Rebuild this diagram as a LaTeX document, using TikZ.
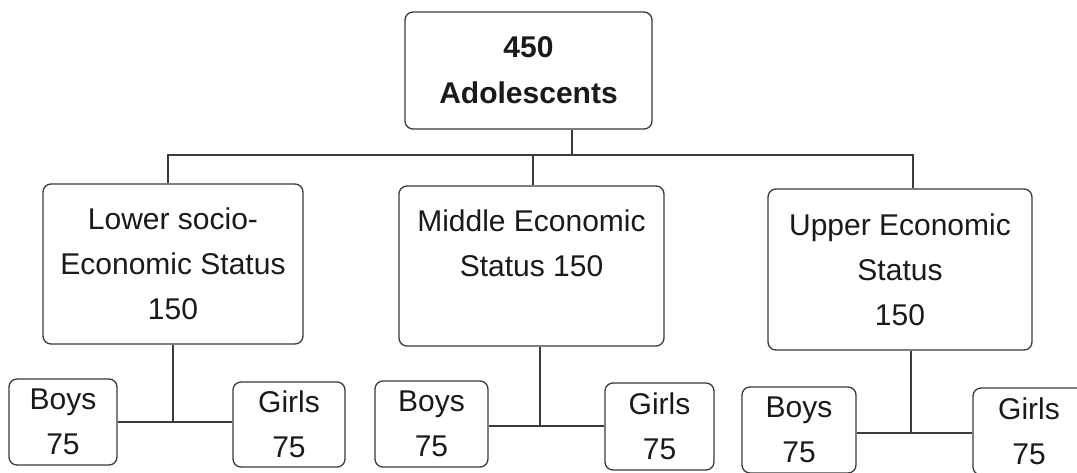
\documentclass[tikz,border=0pt]{standalone}
\usepackage{fontspec}
\setmainfont{Liberation Sans}
\definecolor{ink}{HTML}{1A1A1A}
\definecolor{edge}{HTML}{3A3A3A}
\begin{document}
\begin{tikzpicture}[x=1pt,y=-1pt,
  box/.style={draw=edge,line width=1.3pt,rounded corners=8pt,inner sep=0pt,
    align=center,text=ink,font=\fontsize{30}{45}\selectfont},
  link/.style={draw=edge,line width=1.3pt}]
\clip (0,0) rectangle (1077,472);
\fill[white] (0,0) rectangle (1077,472);
% top
\node[box,minimum width=247pt,minimum height=117pt,font=\fontsize{30}{46}\selectfont\bfseries] (top) at (528.5,70.5) {450\\Adolescents};
% level 2
\node[box,minimum width=260pt,minimum height=160pt] (L) at (173,264) {Lower socio-\\Economic Status\\150};
\node[box,minimum width=265pt,minimum height=160pt] (M) at (531.5,266) {Middle Economic\\Status 150\\\phantom{1}};
\node[box,minimum width=264pt,minimum height=161pt] (U) at (900,269.5) {Upper Economic\\Status\\150};
% level 3
\node[box,minimum width=108pt,minimum height=86pt] (LB) at (63,422) {Boys\\75};
\node[box,minimum width=112pt,minimum height=85pt] (LG) at (289,424.5) {Girls\\75};
\node[box,minimum width=113pt,minimum height=86pt] (MB) at (431.5,424) {Boys\\75};
\node[box,minimum width=109pt,minimum height=87pt] (MG) at (659.5,426.5) {Girls\\75};
\node[box,minimum width=114pt,minimum height=86pt] (UB) at (799,430) {Boys\\75};
\node[box,minimum width=112pt,minimum height=87pt] (UG) at (1029,431.5) {Girls\\75};
% junctions
\coordinate (j0) at (572,155);
\coordinate (jL) at (168,155);
\coordinate (jM) at (533,155);
\coordinate (jU) at (913,155);
\coordinate (kL) at (173,422);
\coordinate (kM) at (540,426);
\coordinate (kU) at (911,433);
% connectors
\draw[link] (top.south -| j0) -- (j0);
\draw[link] (jL |- L.north) -- (jL) -- (jU) -- (jU |- U.north);
\draw[link] (jM) -- (jM |- M.north);
\draw[link] (L.south -| kL) -- (kL);
\draw[link] (LB.east |- kL) -- (LG.west |- kL);
\draw[link] (M.south -| kM) -- (kM);
\draw[link] (MB.east |- kM) -- (MG.west |- kM);
\draw[link] (U.south -| kU) -- (kU);
\draw[link] (UB.east |- kU) -- (UG.west |- kU);
\end{tikzpicture}
\end{document}
